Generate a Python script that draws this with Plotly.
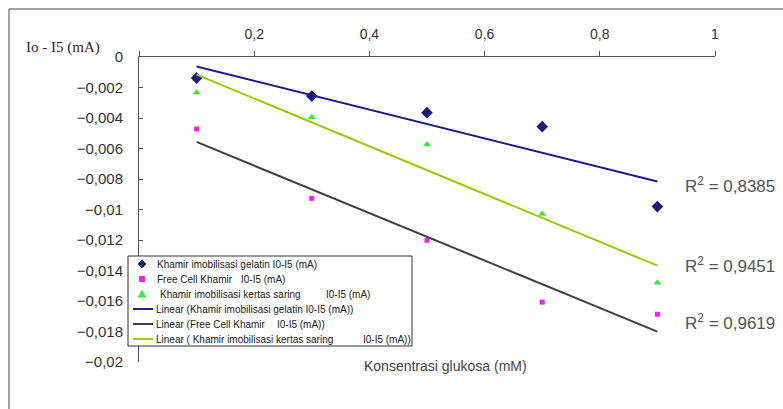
import numpy as np
import plotly.graph_objects as go

# Glucose concentration (mM)
konsentrasi = [0.1, 0.3, 0.5, 0.7, 0.9]

# Current difference Io - I5 (mA) for each yeast preparation
gelatin = [-0.00138, -0.00256, -0.00365, -0.00457, -0.00981]
free_cell = [-0.00472, -0.00927, -0.01202, -0.01607, -0.01687]
kertas_saring = [-0.00232, -0.00395, -0.00573, -0.01030, -0.01480]

r2_labels = ["R<sup>2</sup> = 0,8385", "R<sup>2</sup> = 0,9451", "R<sup>2</sup> = 0,9619"]

x_ticks = [0, 0.2, 0.4, 0.6, 0.8, 1]
x_ticktext = ["", "0,2", "0,4", "0,6", "0,8", "1"]
y_ticks = [0, -0.002, -0.004, -0.006, -0.008, -0.01, -0.012, -0.014, -0.016, -0.018, -0.02]
y_ticktext = ["0", "\u22120,002", "\u22120,004", "\u22120,006", "\u22120,008", "\u22120,01",
              "\u22120,012", "\u22120,014", "\u22120,016", "\u22120,018", "\u22120,02"]

# Legend labels: (main text, trailing unit text)
legend_labels = [
    ("Khamir imobilisasi gelatin I0-I5 (mA)", None),
    ("Free Cell Khamir", "I0-I5 (mA)"),
    ("Khamir imobilisasi kertas saring", "I0-I5 (mA)"),
    ("Linear (Khamir imobilisasi gelatin I0-I5 (mA))", None),
    ("Linear (Free Cell Khamir", "I0-I5 (mA))"),
    ("Linear ( Khamir imobilisasi kertas saring", "I0-I5 (mA))"),
]

W, H = 783, 409
ML, MR, MT, MB = 139, 68, 57, 47
SANS = "Liberation Sans, Arial"


def px_x(p):
    return (p - ML) / (W - ML - MR)


def px_y(p):
    return (H - MB - p) / (H - MT - MB)


fig = go.Figure()

marker_colors = ["#1c1c80", "#ff1aff", "#33ee33"]
marker_styles = [
    dict(symbol="diamond", size=9, color=marker_colors[0]),
    dict(symbol="square", size=5, color=marker_colors[1]),
    dict(symbol="triangle-up", size=7, color=marker_colors[2]),
]
series = [gelatin, free_cell, kertas_saring]
for ys, mk in zip(series, marker_styles):
    fig.add_trace(go.Scatter(x=konsentrasi, y=ys, mode="markers", marker=mk, showlegend=False))

# Least-squares trend lines over the measured range
line_colors = ["#1c1c8c", "#404040", "#99cc00"]
xa = np.array(konsentrasi)
for ys, col in zip(series, line_colors):
    slope, icpt = np.polyfit(xa, np.array(ys), 1)
    xs = [xa.min(), xa.max()]
    fig.add_trace(go.Scatter(x=xs, y=[slope * v + icpt for v in xs], mode="lines",
                             line=dict(color=col, width=2), showlegend=False))

# R^2 labels beside the line ends
r2_y = [-0.00842, -0.01365, -0.01740]
for yv, txt in zip(r2_y, r2_labels):
    fig.add_annotation(x=0.945, y=yv, xref="x", yref="y", text=txt, showarrow=False,
                       xanchor="left", yanchor="middle",
                       font=dict(family=SANS, size=17, color="#555555"))

# Chart-area border (left and top edges)
fig.add_shape(type="line", xref="paper", yref="paper", x0=px_x(9), x1=px_x(800),
              y0=px_y(9), y1=px_y(9), line=dict(color="#444444", width=1))
fig.add_shape(type="line", xref="paper", yref="paper", x0=px_x(9), x1=px_x(9),
              y0=px_y(9), y1=px_y(420), line=dict(color="#444444", width=1))

# Axis titles
fig.add_annotation(x=px_x(24), y=px_y(48), xref="paper", yref="paper", text="Io - I5 (mA)",
                   showarrow=False, xanchor="left", yanchor="middle",
                   font=dict(family="Liberation Serif, Times New Roman", size=15, color="#402030"))
fig.add_annotation(x=px_x(362), y=px_y(366), xref="paper", yref="paper",
                   text="Konsentrasi glukosa (mM)", showarrow=False, xanchor="left", yanchor="middle",
                   font=dict(family=SANS, size=14, color="#444444"))

# Compact legend box
fig.add_shape(type="rect", xref="paper", yref="paper", x0=px_x(128), x1=px_x(412),
              y0=px_y(256), y1=px_y(346), fillcolor="white", line=dict(color="#333333", width=1),
              layer="above")
row_y = [264, 279, 294, 309, 324, 339]
sym_x = 142


def path_shape(points, color):
    d = "M " + " L ".join(f"{px_x(a):.5f},{px_y(b):.5f}" for a, b in points) + " Z"
    fig.add_shape(type="path", xref="paper", yref="paper", path=d, fillcolor=color,
                  line=dict(color=color, width=1), layer="above")


cy = row_y[0]
path_shape([(sym_x, cy - 4), (sym_x + 4, cy), (sym_x, cy + 4), (sym_x - 4, cy)], marker_colors[0])
cy = row_y[1]
path_shape([(sym_x - 2.5, cy - 2.5), (sym_x + 2.5, cy - 2.5), (sym_x + 2.5, cy + 2.5),
            (sym_x - 2.5, cy + 2.5)], marker_colors[1])
cy = row_y[2]
path_shape([(sym_x, cy - 3.5), (sym_x + 3.5, cy + 3), (sym_x - 3.5, cy + 3)], marker_colors[2])
for cy, col in zip(row_y[3:], line_colors):
    fig.add_shape(type="line", xref="paper", yref="paper", x0=px_x(133), x1=px_x(153),
                  y0=px_y(cy), y1=px_y(cy), line=dict(color=col, width=2), layer="above")

text_x = [155, 155, 158, 154, 154, 154]
unit_x = [None, 239, 324, None, 275, 361]
for (main, unit), cy, tx, ux in zip(legend_labels, row_y, text_x, unit_x):
    fig.add_annotation(x=px_x(tx), y=px_y(cy), xref="paper", yref="paper", text=main,
                       showarrow=False, xanchor="left", yanchor="middle",
                       font=dict(family=SANS, size=10, color="#222222"))
    if unit:
        fig.add_annotation(x=px_x(ux), y=px_y(cy), xref="paper", yref="paper", text=unit,
                           showarrow=False, xanchor="left", yanchor="middle",
                           font=dict(family=SANS, size=10, color="#222222"))

fig.update_layout(
    width=W, height=H,
    margin=dict(l=ML, r=MR, t=MT, b=MB),
    paper_bgcolor="white", plot_bgcolor="white",
    showlegend=False,
    xaxis=dict(range=[0, 1], side="top", tickvals=x_ticks, ticktext=x_ticktext,
               showgrid=False, zeroline=False, showline=True, linecolor="#555555", linewidth=1,
               ticks="outside", ticklen=5, tickcolor="#555555", ticklabelstandoff=6,
               tickfont=dict(family=SANS, size=14, color="#333333")),
    yaxis=dict(range=[-0.02, 0], tickvals=y_ticks, ticktext=y_ticktext,
               showgrid=False, zeroline=False, showline=True, linecolor="#555555", linewidth=1,
               ticks="inside", ticklen=4, tickcolor="#555555", ticklabelstandoff=12,
               tickfont=dict(family=SANS, size=15, color="#333333")),
)

fig.write_html("out.html")
